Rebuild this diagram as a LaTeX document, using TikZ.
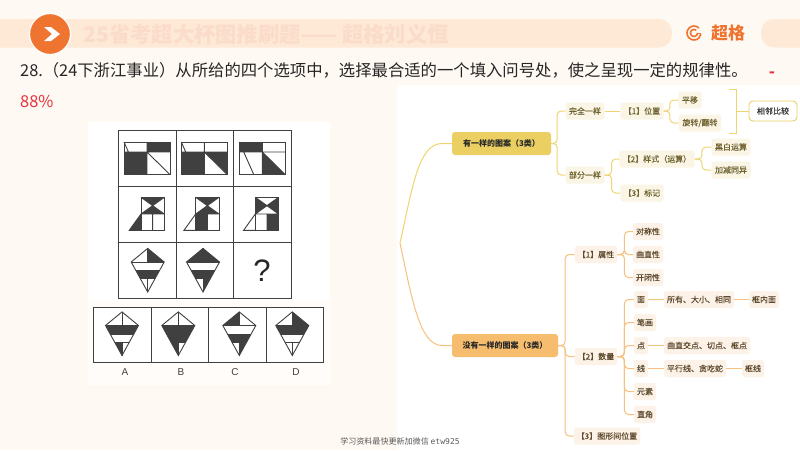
\documentclass[tikz,border=0pt]{standalone}
\usepackage{fontspec}
\setmainfont{Noto Sans CJK SC}
\newfontfamily\medf[FakeBold=0.25]{Noto Sans CJK SC}
\newfontfamily\monof{DejaVu Sans Mono}
\newfontfamily\latinf{Liberation Sans}
\usetikzlibrary{calc}
\definecolor{pagebg}{HTML}{FFF9F3}
\definecolor{band}{HTML}{FDE9D6}
\definecolor{titlec}{HTML}{FBDCCB}
\definecolor{brand}{HTML}{EE7430}
\definecolor{kd}{HTML}{404040}
\definecolor{yel}{HTML}{F0D470}
\definecolor{yelfill}{HTML}{EBCF62}
\definecolor{yelsoft}{HTML}{FAF5E4}
\definecolor{org}{HTML}{F7C07E}
\definecolor{orgfill}{HTML}{F7BD6E}
\definecolor{orgsoft}{HTML}{FDF2E7}
\definecolor{txty}{HTML}{6F6230}
\definecolor{txto}{HTML}{5E4A2E}
\definecolor{redt}{HTML}{E8303A}
\newcommand\fs[1]{\fontsize{#1}{#1}\selectfont}
\tikzset{
  fig/.style={draw=kd,line width=0.9pt,line join=miter},
  mainy/.style={fill=yelfill,rounded corners=3pt,minimum height=23pt,inner sep=0pt,font=\fs{8}\bfseries,text=black!85},
  maino/.style={fill=orgfill,rounded corners=3pt,minimum height=23pt,inner sep=0pt,font=\fs{8}\bfseries,text=black!85},
  ylab/.style={fill=yelsoft,rounded corners=2.5pt,minimum height=17pt,inner xsep=3.5pt,inner ysep=0pt,font=\medf\fs{8},text=txty},
  olab/.style={fill=orgsoft,rounded corners=2.5pt,minimum height=17pt,inner xsep=3pt,inner ysep=0pt,font=\medf\fs{8},text=txto},
  ylink/.style={draw=yel,line width=1pt,rounded corners=4pt},
  olink/.style={draw=org,line width=1pt,rounded corners=4pt},
  optlab/.style={font=\latinf\fs{10},text=black!75,inner sep=0pt},
}
% cx, shoulder y, TL, TR, band1, band2, BL, BR
\newcommand\kitefig[8]{%
\begin{scope}[shift={(#1,#2)}]
  \fill[#3] (0,-13.6) -- (-16.5,0) -- (0,0) -- cycle;
  \fill[#4] (0,-13.6) -- (16.5,0) -- (0,0) -- cycle;
  \fill[#5] (-16.5,0) -- (16.5,0) -- (11.8,8.5) -- (-11.8,8.5) -- cycle;
  \fill[#6] (-11.8,8.5) -- (11.8,8.5) -- (7.4,16.5) -- (-7.4,16.5) -- cycle;
  \fill[#7] (-7.4,16.5) -- (0,16.5) -- (0,30) -- cycle;
  \fill[#8] (7.4,16.5) -- (0,16.5) -- (0,30) -- cycle;
  \draw[fig] (0,-13.6) -- (16.5,0) -- (0,30) -- (-16.5,0) -- cycle;
  \draw[fig] (0,-13.6) -- (0,0) (-16.5,0) -- (16.5,0) (-11.8,8.5) -- (11.8,8.5) (-7.4,16.5) -- (7.4,16.5) (0,16.5) -- (0,30);
\end{scope}}
% x0,y0, TL, BL-left triangle, BL-right part, TR, BR-upper, BR-lower
\newcommand\rectfig[8]{%
\begin{scope}[shift={(#1,#2)}]
  \fill[#3] (0,0) rectangle (23,10);
  \fill[#4] (0,10) -- (4.4,10) -- (14.5,32.7) -- (0,32.7) -- cycle;
  \fill[#5] (4.4,10) -- (23,10) -- (23,32.7) -- (14.5,32.7) -- cycle;
  \fill[#6] (23,0) rectangle (46,10);
  \fill[#7] (23,10) -- (46,10) -- (46,32.7) -- cycle;
  \fill[#8] (23,10) -- (46,32.7) -- (23,32.7) -- cycle;
  \draw[fig] (0,0) rectangle (46,32.7);
  \draw[fig] (23,0) -- (23,32.7) (0,10) -- (46,10) (0,0) -- (14.5,32.7) (23,10) -- (46,32.7);
\end{scope}}
% x0,y0, top&bottom tri, side tris, bottom-left cell, bottom-right cell, left tri
\newcommand\housefig[7]{%
\begin{scope}[shift={(#1,#2)}]
  \fill[#3] (0,0) -- (23.3,0) -- (11.65,8.35) -- cycle;
  \fill[#3] (0,16.7) -- (23.3,16.7) -- (11.65,8.35) -- cycle;
  \fill[#4] (0,0) -- (0,16.7) -- (11.65,8.35) -- cycle;
  \fill[#4] (23.3,0) -- (23.3,16.7) -- (11.65,8.35) -- cycle;
  \fill[#5] (0,16.7) rectangle (11.65,33);
  \fill[#6] (11.65,16.7) rectangle (23.3,33);
  \fill[#7] (0,16.7) -- (0,33) -- (-11.7,33) -- cycle;
  \draw[fig] (0,0) rectangle (23.3,33);
  \draw[fig] (0,0) -- (23.3,16.7) (23.3,0) -- (0,16.7) (0,16.7) -- (23.3,16.7) (11.65,16.7) -- (11.65,33);
  \draw[fig] (0,16.7) -- (-11.7,33) -- (0,33);
\end{scope}}
\begin{document}
\begin{tikzpicture}[x=1pt,y=-1pt]
\useasboundingbox (0,0) rectangle (800,450);
\fill[pagebg] (0,0) rectangle (800,450);
% header
\fill[band,rounded corners=13pt] (-20,19) rectangle (672,47.5);
\fill[band,rounded corners=13pt] (761,19) rectangle (830,47.5);
\node[anchor=west,inner sep=0pt,font=\fs{21.3}\bfseries,text=titlec] (title) at (83,34) {25省考超大杯图推刷题—— 超格刘义恒};
\node[circle,fill=brand,draw=white,line width=1.2pt,minimum size=41pt,inner sep=0pt] (badge) at (50,34) {};
\fill[white] (44,27) -- (51,27) -- (60,34) -- (51,41) -- (44,41) -- (52,34) -- cycle;
% logo
\draw[brand,line width=1.6pt] (698.95,28.05) arc[start angle=-45,end angle=-350,radius=7];
\draw[brand,line width=1.6pt] (696.3,30.2) arc[start angle=-50,end angle=-360,radius=3.6];
\draw[brand,line width=1.6pt] (697.6,33.6) -- (701,33.6);
\node[anchor=west,inner sep=0pt,font=\fs{17}\bfseries,text=brand] (logo) at (711,33.5) {超格};
% panels
\fill[white] (397,85) rectangle (800,450);
\fill[white] (88,122) rectangle (330,300);
\fill[white!50!pagebg] (88,300) rectangle (330,385);
% question
\node[anchor=base west,inner sep=0pt,font=\fs{16.35},text=black!85] (q) at (20,76.5) {28.（24下浙江事业）从所给的四个选项中，选择最合适的一个填入问号处，使之呈现一定的规律性。};
\node[anchor=base,inner sep=0pt,font=\fs{16}\bfseries,text=redt] (dash) at (772,77) {-};
\node[anchor=base west,inner sep=0pt,font=\fs{16.35},text=redt] (pct) at (20,107.5) {88\%};
% puzzle grid
\fill[white] (118,130) rectangle (291,298);
\draw[draw=kd,line width=1pt] (118,130) rectangle (291,298) (176,130) -- (176,298) (233,130) -- (233,298) (118,186) -- (291,186) (118,242) -- (291,242);
\rectfig{124}{142}{white}{kd}{kd}{kd}{white}{white}
\rectfig{181.3}{142}{white}{kd}{kd}{white}{kd}{white}
\rectfig{239.3}{142}{kd}{white}{white}{white}{white}{kd}
\housefig{141}{197.3}{kd}{white}{white}{white}{kd}
\housefig{195.7}{197.3}{kd}{white}{kd}{white}{white}
\housefig{255.3}{197.3}{white}{kd}{white}{kd}{white}
\kitefig{147.7}{262}{white}{kd}{white}{kd}{white}{white}
\kitefig{203}{262}{kd}{kd}{white}{kd}{white}{kd}
\node[inner sep=0pt,font=\latinf\fs{31},text=black!85] (qm) at (262,270.5) {?};
% options
\fill[white] (93,307) rectangle (323,362);
\draw[draw=kd,line width=1pt] (93,307) rectangle (323,362) (151,307) -- (151,362) (208,307) -- (208,362) (266,307) -- (266,362);
\kitefig{122}{325.5}{white}{white}{kd}{white}{kd}{white}
\kitefig{178.3}{325.5}{white}{white}{kd}{kd}{kd}{white}
\kitefig{239.3}{325.5}{kd}{white}{white}{kd}{white}{kd}
\kitefig{292.3}{325.5}{white}{kd}{kd}{white}{white}{white}
\node[optlab] (la) at (125,372.5) {A};
\node[optlab] (lb) at (181,372.5) {B};
\node[optlab] (lc) at (235,372.5) {C};
\node[optlab] (ld) at (296,372.5) {D};
% mind map nodes
\coordinate (root) at (400,243);
\node[mainy,minimum width=99pt] (same) at (501.5,143.5) {有一样的图案（3类）};
\node[maino,minimum width=106pt] (nosame) at (505,345.5) {没有一样的图案（3类）};
\node[ylab] (full) at (585,111) {完全一样};
\node[ylab] (part) at (585,175) {部分一样};
\node[ylab] (pos) at (642,111) {【1】位置};
\node[ylab] (style) at (657,159) {【2】样式（运算）};
\node[ylab] (mark) at (642,193) {【3】标记};
\node[ylab] (trans) at (690,100) {平移};
\node[ylab] (rot) at (700,123) {旋转/翻转};
\node[ylab] (bw) at (731,147) {黑白运算};
\node[ylab] (add) at (731,170) {加减同异};
\node[draw=yelfill,fill=white,line width=0.9pt,rounded corners=4pt,minimum width=48pt,minimum height=20pt,inner sep=0pt,font=\medf\fs{8},text=black!80] (adj) at (773,111) {相邻比较};
\node[olab] (attr) at (596,254.5) {【1】属性};
\node[olab] (num) at (596,356.5) {【2】数量};
\node[olab] (rel) at (607,436) {【3】图形间位置};
\node[olab] (sym) at (648,231.5) {对称性};
\node[olab] (cur) at (648,254.5) {曲直性};
\node[olab] (open) at (648,277.5) {开闭性};
\node[olab] (face) at (641,299.5) {面};
\node[olab] (stroke) at (645,322.5) {笔画};
\node[olab] (pt) at (641,345.5) {点};
\node[olab] (ln) at (641,368.5) {线};
\node[olab] (elem) at (645,391.5) {元素};
\node[olab] (ang) at (645,414.5) {直角};
\node[olab] (allf) at (699,299.5) {所有、大小、相同};
\node[olab] (inf) at (764,299.5) {框内面};
\node[olab] (cross) at (707,345.5) {曲直交点、切点、框点};
\node[olab] (par) at (695,368.5) {平行线、贪吃蛇};
\node[olab] (fl) at (753,368.5) {框线};
% connectors
\draw[draw=yel,line width=1pt] (root) .. controls (412,190) and (418,143.5) .. (442,143.5) -- (same.west);
\draw[draw=org,line width=1pt] (root) .. controls (412,300) and (420,345.5) .. (442,345.5) -- (nosame.west);
\foreach \b in {full,part}{\draw[ylink] (same.east) -- ++(6,0) |- (\b.west);}
\draw[ylink] (full.east) -- (pos.west);
\foreach \b in {style,mark}{\draw[ylink] (part.east) -- ++(7,0) |- (\b.west);}
\foreach \b in {trans,rot}{\draw[ylink] (pos.east) -- ++(6,0) |- (\b.west);}
\foreach \b in {bw,add}{\draw[ylink] (style.east) -- ++(7,0) |- (\b.west);}
\coordinate (bt) at (729,89); \coordinate (bb) at (729,133); \coordinate (bm) at (736,111);
\draw[ylink,rounded corners=0pt] (bt) -| (bm) |- (bb);
\draw[ylink] (bm) -- (adj.west);
\foreach \b in {attr,num,rel}{\draw[olink] (nosame.east) -- ++(7,0) |- (\b.west);}
\foreach \b in {sym,cur,open}{\draw[olink] (attr.east) -- ++(7,0) |- (\b.west);}
\foreach \b in {face,stroke,pt,ln,elem,ang}{\draw[olink] (num.east) -- ++(7,0) |- (\b.west);}
\draw[olink] (face.east) -- (allf.west);
\draw[olink] (allf.east) -- (inf.west);
\draw[olink] (pt.east) -- (cross.west);
\draw[olink] (ln.east) -- (par.west);
\draw[olink] (par.east) -- (fl.west);
% footer
\node[inner sep=0pt,font=\fs{8.05},text=black!65] (foot) at (400,441.5) {学习资料最快更新加微信 {\monof etw925}};
\end{tikzpicture}
\end{document}
